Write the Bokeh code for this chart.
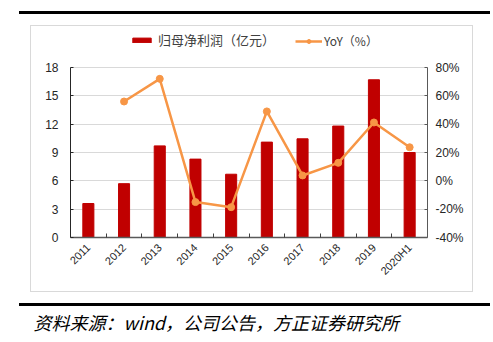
import math
from bokeh.plotting import figure
from bokeh.layouts import column, row
from bokeh.models import (LinearAxis, Range1d, FixedTicker, NumeralTickFormatter,
                          Legend, LegendItem, Label, ColumnDataSource, Spacer)
from bokeh.embed import file_html
from bokeh.resources import INLINE

categories = ["2011", "2012", "2013", "2014", "2015", "2016", "2017", "2018", "2019", "2020H1"]
profit = [3.6, 5.7, 9.7, 8.3, 6.7, 10.1, 10.45, 11.8, 16.7, 9.0]
yoy_years = ["2012", "2013", "2014", "2015", "2016", "2017", "2018", "2019", "2020H1"]
yoy = [0.56, 0.72, -0.15, -0.186, 0.49, 0.038, 0.127, 0.412, 0.237]
left_ticks = [0, 3, 6, 9, 12, 15, 18]
right_ticks = [-0.4, -0.2, 0, 0.2, 0.4, 0.6, 0.8]
source_text = "资料来源：wind，公司公告，方正证券研究所"

RED = "#C00000"
ORANGE = "#F79646"
FONT = "Liberation Sans"
CJK = "Noto Sans CJK SC"

xs = list(range(len(categories)))
yoy_x = [categories.index(c) for c in yoy_years]

# frame is 211 px tall; the value axes occupy its lower 170 px, legend sits above
EXT = 211 / 170
L0, L1 = left_ticks[0], left_ticks[-1]
R0, R1 = right_ticks[0], right_ticks[-1]

p = figure(width=441, height=265, output_backend="svg", toolbar_location=None,
           x_range=Range1d(-0.5, len(categories) - 0.5),
           y_range=Range1d(L0, L0 + (L1 - L0) * EXT),
           min_border_left=39, min_border_right=45, min_border_top=0, min_border_bottom=54)
p.outline_line_color = None
p.background_fill_color = "white"
p.border_fill_color = "white"
p.extra_y_ranges = {"yoy": Range1d(R0, R0 + (R1 - R0) * EXT)}

bars = p.vbar(x=xs, top=profit, width=0.31, fill_color=RED, line_color=RED)
src = ColumnDataSource(dict(x=yoy_x, y=yoy))
ln = p.line("x", "y", source=src, y_range_name="yoy", line_color=ORANGE, line_width=2.5)
pts = p.scatter("x", "y", source=src, y_range_name="yoy", size=7, fill_color=ORANGE, line_color=ORANGE)

# x axis
xa = p.xaxis[0]
xa.ticker = FixedTicker(ticks=xs, minor_ticks=[i + 0.5 for i in xs[:-1]])
xa.major_label_overrides = {i: c for i, c in enumerate(categories)}
xa.major_label_orientation = math.pi / 4
xa.major_tick_in = 0
xa.major_tick_out = 0
xa.minor_tick_in = 4
xa.minor_tick_out = 0
xa.axis_line_color = "#595959"
xa.axis_line_width = 1.5
xa.minor_tick_line_color = "#404040"
xa.major_label_text_font = FONT
xa.major_label_text_font_size = "11px"
xa.major_label_text_color = "#262626"
xa.major_label_standoff = 8

# left axis
ya = p.yaxis[0]
ya.ticker = FixedTicker(ticks=left_ticks)
ya.bounds = (L0, L1)
ya.major_tick_in = 3
ya.major_tick_out = 0
ya.minor_tick_line_color = None
ya.axis_line_color = "#262626"
ya.major_tick_line_color = "#262626"
ya.major_label_text_font = FONT
ya.major_label_text_font_size = "12px"
ya.major_label_text_color = "#262626"
ya.major_label_standoff = 12

# right axis
ra = LinearAxis(y_range_name="yoy", ticker=FixedTicker(ticks=right_ticks),
                formatter=NumeralTickFormatter(format="0%"), bounds=(R0, R1))
ra.major_tick_in = 3
ra.major_tick_out = 0
ra.minor_tick_line_color = None
ra.axis_line_color = "#595959"
ra.major_tick_line_color = "#595959"
ra.major_label_text_font = FONT
ra.major_label_text_font_size = "12px"
ra.major_label_text_color = "#262626"
ra.major_label_standoff = 8
p.add_layout(ra, "right")

p.xgrid.grid_line_color = None
p.ygrid.ticker = FixedTicker(ticks=left_ticks)
p.ygrid.grid_line_color = "#d9d9d9"
p.ygrid.grid_line_width = 1

# legends
for items, loc, gw, gh, standoff, fs in [
    ([LegendItem(label="归母净利润（亿元）", renderers=[bars])], (60, 188), 23, 6, 5, "13px"),
    ([LegendItem(label="YoY（%）", renderers=[ln, pts])], (225, 188), 27, 10, 2, "12px"),
]:
    lg = Legend(items=items, location=loc, orientation="horizontal",
                glyph_width=gw, glyph_height=gh, label_standoff=standoff,
                padding=0, margin=0, border_line_color=None, background_fill_alpha=0,
                label_text_font=CJK, label_text_font_size=fs, label_text_color="#404040",
                label_height=12)
    p.add_layout(lg, "center")


def block(w, h, color):
    return Spacer(width=w, height=h, styles={"background-color": color})


GRAY = "#d9d9d9"
boxed = row(block(1, 267, GRAY),
            column(block(441, 1, GRAY), p, block(441, 1, GRAY)),
            block(1, 267, GRAY))

src_fig = figure(width=493, height=36, output_backend="svg", toolbar_location=None,
                 x_axis_type=None, y_axis_type=None, min_border=0)
src_fig.outline_line_color = None
src_fig.grid.visible = False
src_fig.add_layout(Label(x=33, y=8, x_units="screen", y_units="screen", text=source_text,
                         text_font=CJK, text_font_size="18px", text_font_style="italic",
                         text_color="black"))

layout = column(
    Spacer(height=11),
    row(Spacer(width=19), block(471, 3, "black")),
    Spacer(height=11),
    row(Spacer(width=30), boxed),
    Spacer(height=11),
    row(Spacer(width=19), block(471, 3, "black")),
    src_fig,
)

open("out.html", "w").write(file_html(layout, INLINE))
